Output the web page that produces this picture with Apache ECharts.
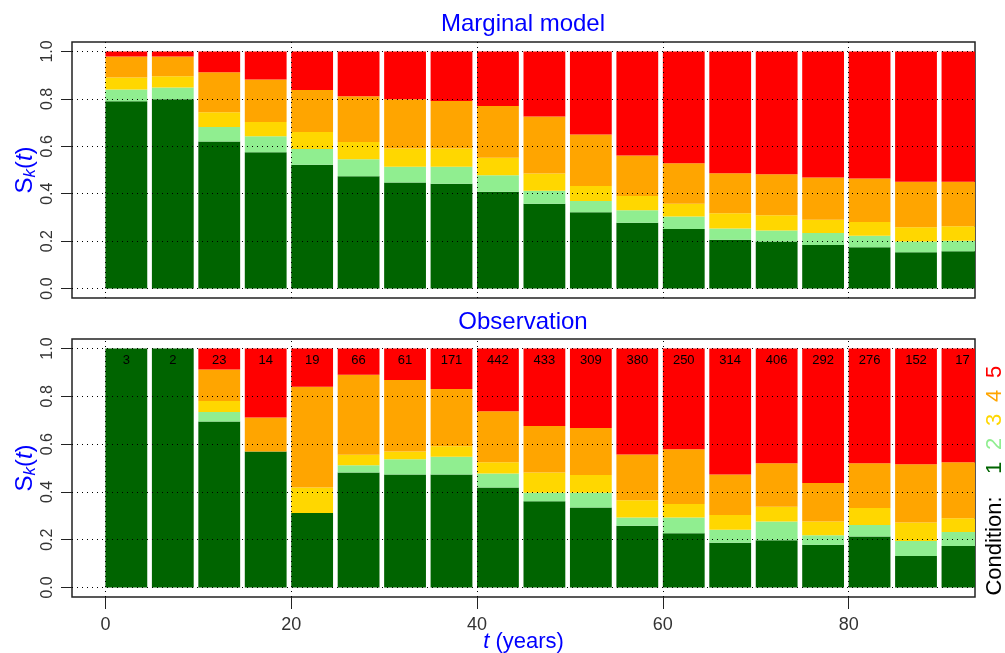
<!DOCTYPE html>
<html>
<head>
<meta charset="utf-8">
<script src="https://cdn.jsdelivr.net/npm/echarts@6/dist/echarts.min.js"></script>
<style>
  html, body { margin: 0; padding: 0; background: #fff; }
  #main { width: 1005px; height: 653px; }
</style>
</head>
<body>
<div id="main"></div>
<script>
// interval start (years), each bar covers 5 years
var startYears = [0, 5, 10, 15, 20, 25, 30, 35, 40, 45, 50, 55, 60, 65, 70, 75, 80, 85, 90];

// marginal model: cumulative tops of condition 1..4 (condition 5 fills up to 1)
var modelLe1 = [0.790, 0.798, 0.620, 0.575, 0.522, 0.474, 0.447, 0.442, 0.408, 0.358, 0.322, 0.277, 0.251, 0.206, 0.198, 0.184, 0.174, 0.153, 0.157];
var modelLe2 = [0.840, 0.848, 0.681, 0.642, 0.589, 0.545, 0.514, 0.514, 0.478, 0.412, 0.369, 0.330, 0.304, 0.253, 0.245, 0.234, 0.223, 0.198, 0.201];
var modelLe3 = [0.890, 0.896, 0.744, 0.703, 0.660, 0.618, 0.591, 0.591, 0.552, 0.485, 0.433, 0.390, 0.358, 0.318, 0.309, 0.290, 0.281, 0.259, 0.263];
var modelLe4 = [0.979, 0.979, 0.912, 0.882, 0.837, 0.811, 0.798, 0.791, 0.770, 0.726, 0.650, 0.561, 0.529, 0.486, 0.482, 0.468, 0.464, 0.450, 0.450];

// observation
var obsLe1 = [1, 1, 0.695, 0.569, 0.312, 0.481, 0.473, 0.473, 0.418, 0.361, 0.335, 0.258, 0.227, 0.187, 0.198, 0.179, 0.213, 0.132, 0.173];
var obsLe2 = [1, 1, 0.734, 0.569, 0.312, 0.512, 0.537, 0.547, 0.477, 0.396, 0.396, 0.293, 0.293, 0.241, 0.276, 0.218, 0.261, 0.194, 0.232];
var obsLe3 = [1, 1, 0.780, 0.569, 0.418, 0.555, 0.569, 0.591, 0.524, 0.481, 0.471, 0.365, 0.349, 0.303, 0.338, 0.276, 0.333, 0.272, 0.290];
var obsLe4 = [1, 1, 0.912, 0.711, 0.840, 0.890, 0.868, 0.831, 0.738, 0.676, 0.667, 0.556, 0.579, 0.473, 0.520, 0.437, 0.520, 0.516, 0.524];
var obsCounts = [3, 2, 23, 14, 19, 66, 61, 171, 442, 433, 309, 380, 250, 314, 406, 292, 276, 152, 17];

var yTicks = [0, 0.2, 0.4, 0.6, 0.8, 1.0];
var xTicks = [0, 20, 40, 60, 80];
var conditions = ['1', '2', '3', '4', '5'];
var condColors = ['#006400', '#90EE90', '#FFD700', '#FFA500', '#FF0000'];

var barSpan = 4.5;
var fontFam = '"Liberation Sans", Arial, sans-serif';

var chart = echarts.init(document.getElementById('main'));

function renderSeg(params, api) {
  var start = api.value(0);
  var p0 = api.coord([start, api.value(2)]);
  var p1 = api.coord([start + barSpan, api.value(1)]);
  var cs = params.coordSys;
  var shape = echarts.graphic.clipRectByRect(
    { x: p0[0], y: p0[1], width: p1[0] - p0[0], height: p1[1] - p0[1] },
    { x: cs.x, y: cs.y, width: cs.width, height: cs.height }
  );
  if (!shape) return null;
  return { type: 'rect', shape: shape, style: { fill: api.visual('color') } };
}

function segSeries(levels, gridIdx) {
  var list = [];
  for (var k = 0; k < 5; k++) {
    var data = [];
    for (var i = 0; i < startYears.length; i++) {
      var lo = k === 0 ? 0 : levels[k - 1][i];
      var hi = k === 4 ? 1 : levels[k][i];
      data.push([startYears[i], lo, hi]);
    }
    list.push({
      type: 'custom',
      name: conditions[k],
      xAxisIndex: gridIdx,
      yAxisIndex: gridIdx,
      renderItem: renderSeg,
      encode: { x: [0], y: [1, 2] },
      itemStyle: { color: condColors[k] },
      silent: true,
      data: data
    });
  }
  return list;
}

// dotted reference lines drawn over the bars
function gridLines(gridIdx) {
  var d = [];
  yTicks.forEach(function (v) { d.push({ yAxis: v }); });
  xTicks.forEach(function (v) { d.push({ xAxis: v }); });
  return {
    type: 'line',
    xAxisIndex: gridIdx,
    yAxisIndex: gridIdx,
    data: [],
    z: 10,
    markLine: {
      silent: true,
      symbol: ['none', 'none'],
      animation: false,
      label: { show: false },
      lineStyle: { color: '#000', type: [1, 4], width: 1 },
      data: d
    }
  };
}

var countData = startYears.map(function (s, i) { return [s + barSpan / 2, 0.95, obsCounts[i]]; });

function yAxisOpt(gridIdx) {
  return {
    type: 'value',
    gridIndex: gridIdx,
    min: -0.04,
    max: 1.04,
    name: '{s|S}{k|k}{p|(}{t|t}{p|)}',
    nameLocation: 'middle',
    nameRotate: 90,
    nameGap: 33,
    nameMoveOverlap: false,
    nameTextStyle: {
      rich: {
        s: { fontSize: 24, color: '#0000FF', fontFamily: fontFam, lineHeight: 28 },
        k: { fontSize: 17, color: '#0000FF', fontStyle: 'italic', fontFamily: fontFam, verticalAlign: 'bottom', lineHeight: 17 },
        p: { fontSize: 24, color: '#0000FF', fontFamily: fontFam, lineHeight: 28 },
        t: { fontSize: 24, color: '#0000FF', fontStyle: 'italic', fontFamily: fontFam, lineHeight: 28 }
      }
    },
    axisLine: { show: false, onZero: false },
    axisTick: { show: true, length: 11, customValues: yTicks, lineStyle: { color: '#222' } },
    axisLabel: {
      customValues: yTicks,
      rotate: 90,
      margin: 16,
      fontSize: 16,
      color: '#333',
      fontFamily: fontFam,
      formatter: function (v) { return v.toFixed(1); }
    },
    splitLine: { show: false }
  };
}

var option = {
  animation: false,
  backgroundColor: '#fff',
  grid: [
    { left: 72, right: 30, top: 42, height: 256, outerBoundsMode: 'none', containLabel: false, show: true, borderColor: '#222', borderWidth: 1.5, backgroundColor: '#fff' },
    { left: 72, right: 30, top: 339, height: 258, outerBoundsMode: 'none', containLabel: false, show: true, borderColor: '#222', borderWidth: 1.5, backgroundColor: '#fff' }
  ],
  xAxis: [
    {
      type: 'value', gridIndex: 0, min: -3.6, max: 93.6,
      axisLine: { show: false, onZero: false }, axisTick: { show: false },
      axisLabel: { show: false }, splitLine: { show: false }
    },
    {
      type: 'value', gridIndex: 1, min: -3.6, max: 93.6,
      name: '{t|t} (years)',
      nameLocation: 'middle',
      nameGap: 34,
      nameMoveOverlap: false,
      nameTextStyle: {
        fontSize: 22, color: '#0000FF', fontFamily: fontFam,
        rich: { t: { fontSize: 22, color: '#0000FF', fontStyle: 'italic', fontFamily: fontFam } }
      },
      axisLine: { show: false, onZero: false },
      axisTick: { show: true, length: 12, customValues: xTicks, lineStyle: { color: '#222' } },
      axisLabel: { customValues: xTicks, margin: 19, fontSize: 18, color: '#333', fontFamily: fontFam },
      splitLine: { show: false }
    }
  ],
  yAxis: [yAxisOpt(0), yAxisOpt(1)],
  graphic: [
    { type: 'text', x: 523, y: 24, style: { text: 'Marginal model', fill: '#0000FF', font: '24px ' + fontFam, textAlign: 'center', textVerticalAlign: 'middle' } },
    { type: 'text', x: 523, y: 322, style: { text: 'Observation', fill: '#0000FF', font: '24px ' + fontFam, textAlign: 'center', textVerticalAlign: 'middle' } },
    { type: 'text', x: 995, y: 546, rotation: Math.PI / 2, style: { text: 'Condition:', fill: '#000', font: '22px ' + fontFam, textAlign: 'center', textVerticalAlign: 'middle' } },
    { type: 'text', x: 995, y: 468, rotation: Math.PI / 2, style: { text: conditions[0], fill: condColors[0], font: '22px ' + fontFam, textAlign: 'center', textVerticalAlign: 'middle' } },
    { type: 'text', x: 995, y: 444, rotation: Math.PI / 2, style: { text: conditions[1], fill: condColors[1], font: '22px ' + fontFam, textAlign: 'center', textVerticalAlign: 'middle' } },
    { type: 'text', x: 995, y: 420, rotation: Math.PI / 2, style: { text: conditions[2], fill: condColors[2], font: '22px ' + fontFam, textAlign: 'center', textVerticalAlign: 'middle' } },
    { type: 'text', x: 995, y: 396, rotation: Math.PI / 2, style: { text: conditions[3], fill: condColors[3], font: '22px ' + fontFam, textAlign: 'center', textVerticalAlign: 'middle' } },
    { type: 'text', x: 995, y: 372, rotation: Math.PI / 2, style: { text: conditions[4], fill: condColors[4], font: '22px ' + fontFam, textAlign: 'center', textVerticalAlign: 'middle' } }
  ],
  series: []
    .concat(segSeries([modelLe1, modelLe2, modelLe3, modelLe4], 0))
    .concat(segSeries([obsLe1, obsLe2, obsLe3, obsLe4], 1))
    .concat([
      gridLines(0),
      gridLines(1),
      {
        type: 'custom',
        xAxisIndex: 1,
        yAxisIndex: 1,
        z: 11,
        silent: true,
        encode: { x: [0], y: [1] },
        renderItem: function (params, api) {
          var p = api.coord([api.value(0), api.value(1)]);
          return {
            type: 'text', x: p[0], y: p[1],
            style: { text: String(api.value(2)), fill: '#000', font: '13px ' + fontFam, textAlign: 'center', textVerticalAlign: 'middle' }
          };
        },
        data: countData
      }
    ])
};

chart.setOption(option);
</script>
</body>
</html>
